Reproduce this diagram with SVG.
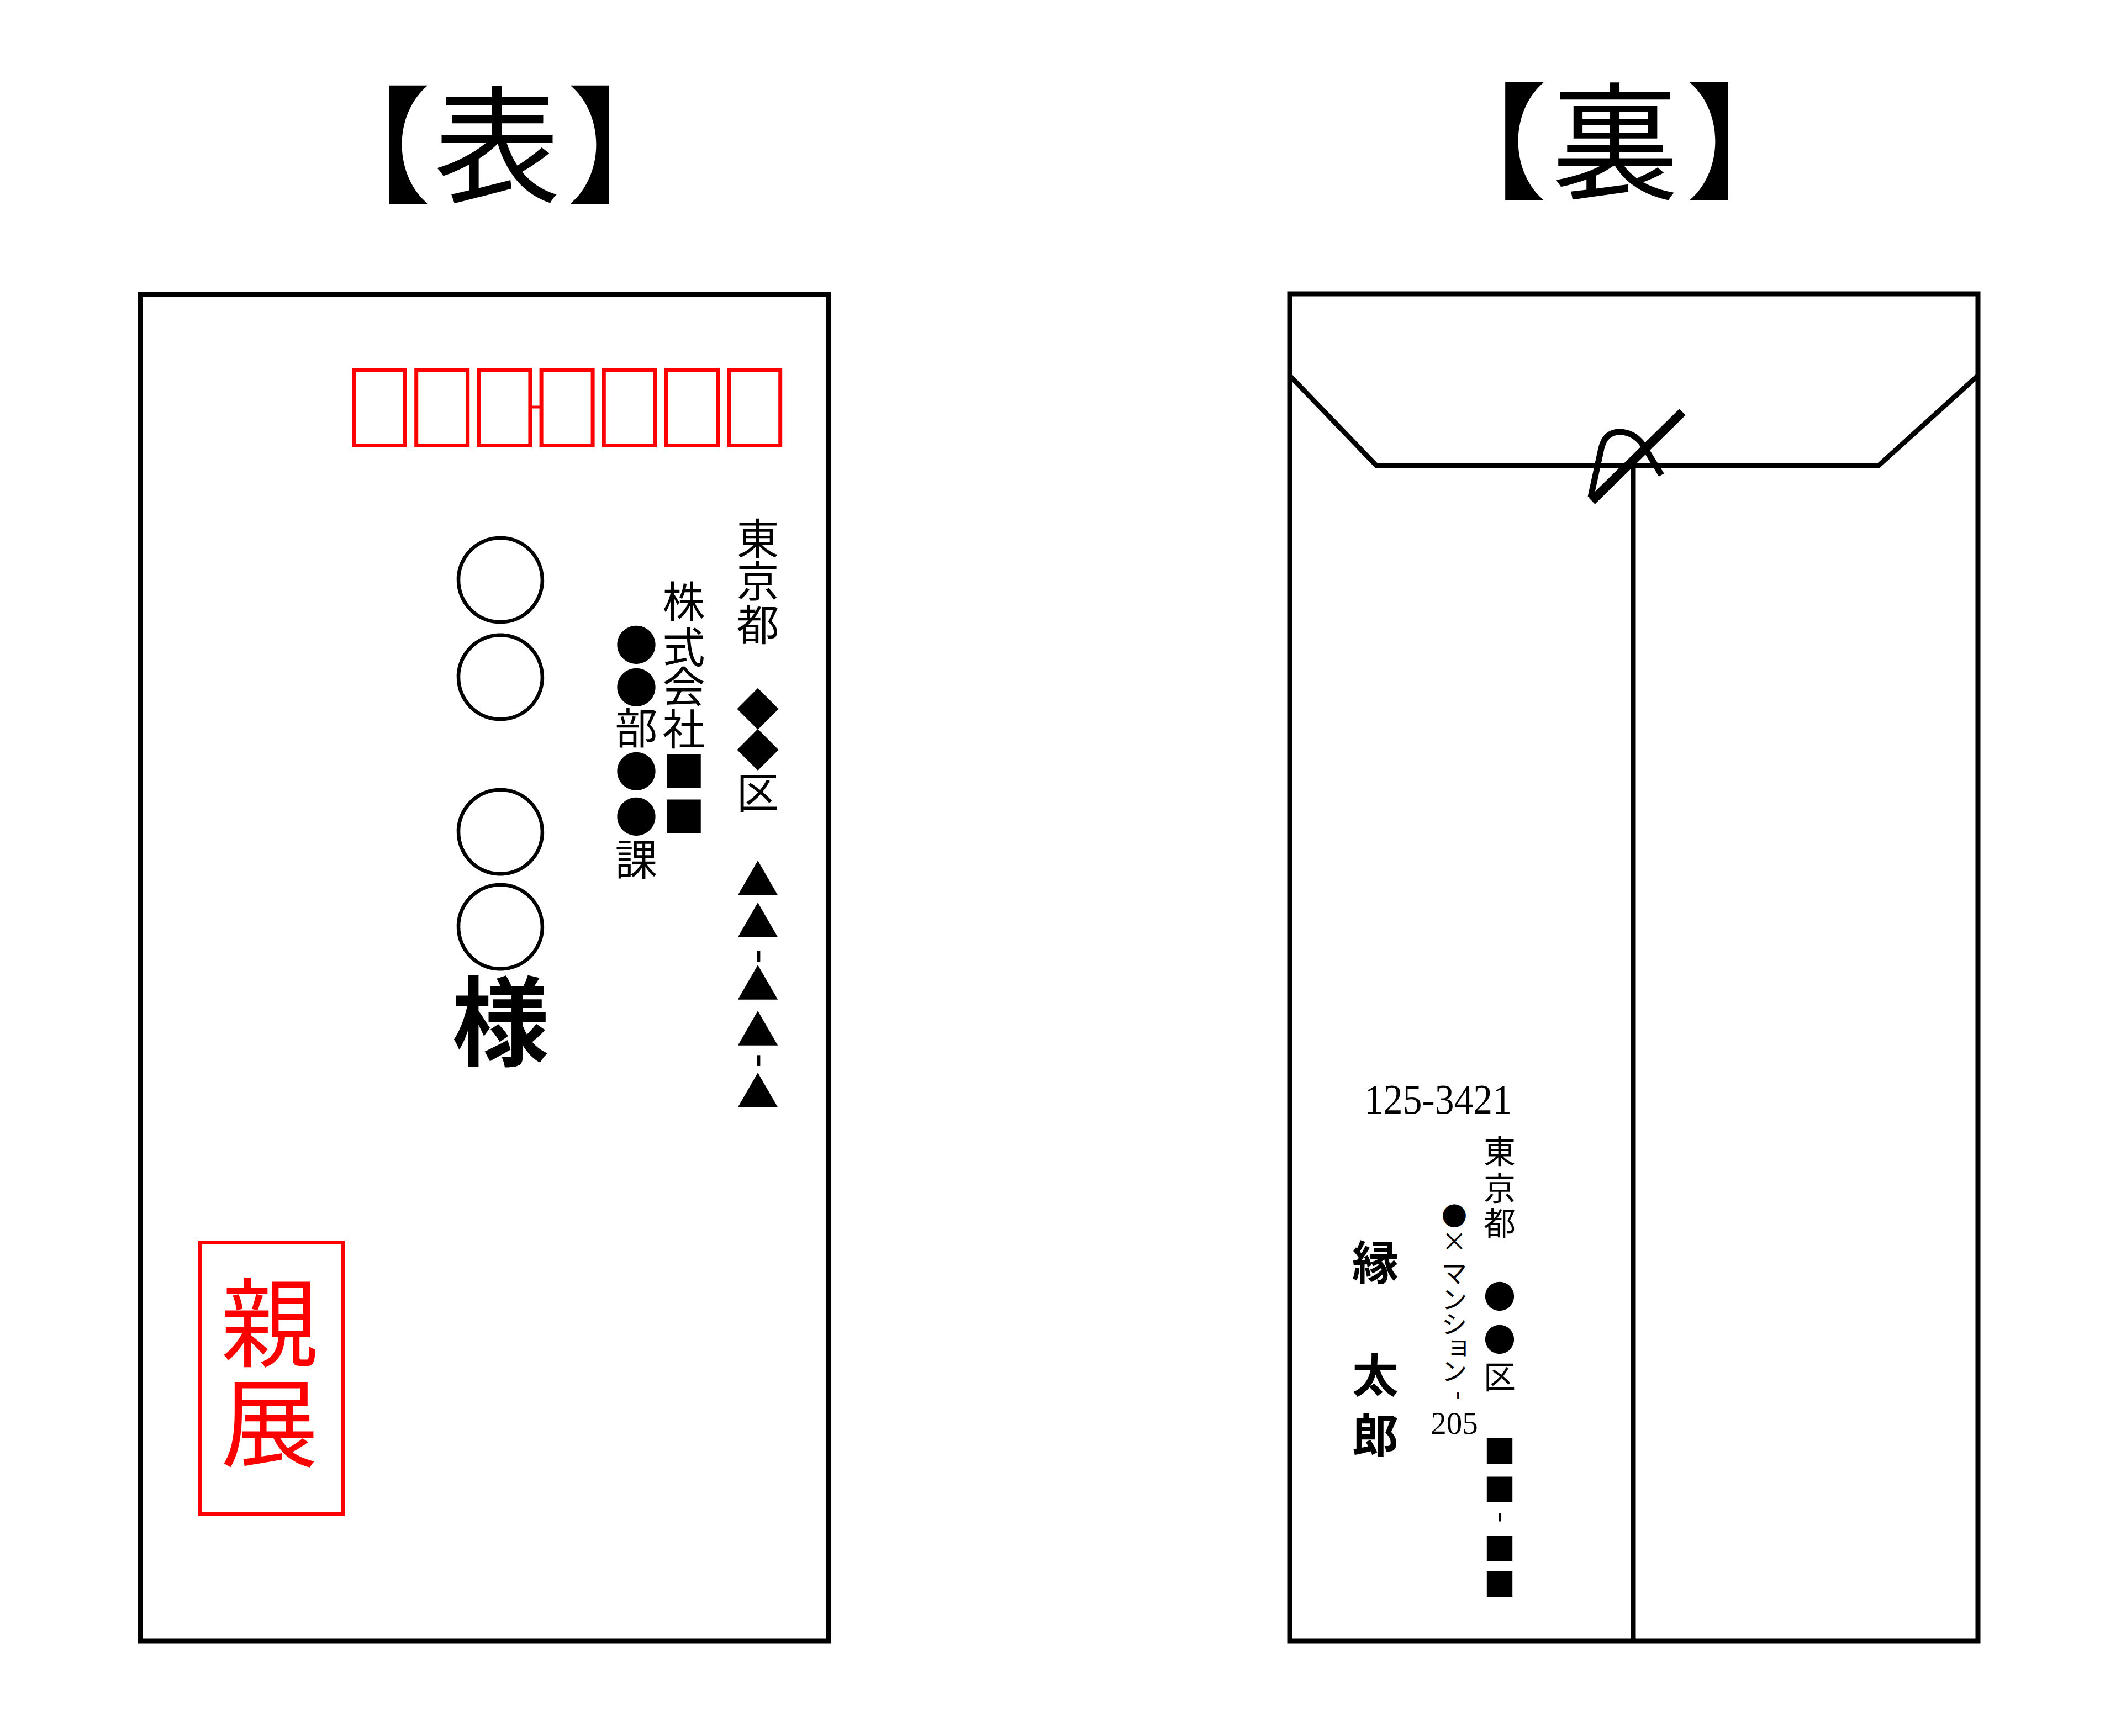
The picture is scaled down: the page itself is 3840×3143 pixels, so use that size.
<svg xmlns="http://www.w3.org/2000/svg" width="3840" height="3143" viewBox="0 0 3840 3143">
<style>
.env{fill:none;stroke:#000;stroke-width:9;stroke-linejoin:miter}
.zip{fill:none;stroke:#ff0000;stroke-width:7}
.jp{font-family:"Noto Sans CJK JP","Noto Sans CJK SC",sans-serif;fill:#000;text-anchor:middle}
.title{font-family:"Noto Sans CJK JP","Noto Sans CJK SC",sans-serif;fill:#000;font-size:230px}
.num{font-family:"Liberation Serif","Noto Sans CJK JP",serif;fill:#000}
.red{fill:#ff0000}
.bold{font-weight:700}
</style>
<rect width="3840" height="3143" fill="#fff"/>

<g id="title-front"><text class="title"><tspan x="551" y="349">【</tspan><tspan x="785" y="349">表</tspan><tspan x="1026" y="349">】</tspan></text></g>
<g id="title-back"><text class="title"><tspan x="2572" y="343">【</tspan><tspan x="2809" y="343">裏</tspan><tspan x="3052" y="343">】</tspan></text></g>

<g id="front-envelope">
  <rect class="env" x="254" y="533" width="1246" height="2438"/>
  <g id="postal-boxes">
    <rect class="zip" x="640.5" y="669.5" width="93" height="137"/>
    <rect class="zip" x="753.7" y="669.5" width="93" height="137"/>
    <rect class="zip" x="866.9" y="669.5" width="93" height="137"/>
    <line x1="963" y1="737" x2="977" y2="737" stroke="#ff0000" stroke-width="5"/>
    <rect class="zip" x="980.1" y="669.5" width="93" height="137"/>
    <rect class="zip" x="1093.3" y="669.5" width="93" height="137"/>
    <rect class="zip" x="1206.5" y="669.5" width="93" height="137"/>
    <rect class="zip" x="1319.7" y="669.5" width="93" height="137"/>
  </g>
  <g id="front-address">
    <text class="jp" font-size="77"><tspan x="1372" y="1004">東</tspan><tspan x="1372" y="1081">京</tspan><tspan x="1372" y="1160">都</tspan><tspan x="1372" y="1313">◆</tspan><tspan x="1372" y="1387">◆</tspan><tspan x="1372" y="1464">区</tspan><tspan x="1372" y="1622">▲</tspan><tspan x="1372" y="1698">▲</tspan><tspan x="1372" y="1811">▲</tspan><tspan x="1372" y="1894">▲</tspan><tspan x="1372" y="2006">▲</tspan></text>
    <text class="jp" font-size="77" x="1372" y="1751" transform="rotate(90 1372 1731)">-</text>
    <text class="jp" font-size="77" x="1372" y="1940" transform="rotate(90 1372 1920)">-</text>
  </g>
  <g id="front-company">
    <text class="jp" font-size="77"><tspan x="1238" y="1118">株</tspan><tspan x="1238" y="1201">式</tspan><tspan x="1238" y="1272">会</tspan><tspan x="1238" y="1349">社</tspan><tspan x="1238" y="1426">■</tspan><tspan x="1238" y="1508">■</tspan></text>
  </g>
  <g id="front-department">
    <text class="jp" font-size="77"><tspan x="1152" y="1197">●</tspan><tspan x="1152" y="1274">●</tspan><tspan x="1152" y="1347">部</tspan><tspan x="1152" y="1426">●</tspan><tspan x="1152" y="1508">●</tspan><tspan x="1152" y="1585">課</tspan></text>
  </g>
  <g id="front-name">
    <text class="jp" font-size="176"><tspan x="906" y="1117">○</tspan><tspan x="906" y="1293">○</tspan><tspan x="906" y="1573">○</tspan><tspan x="906" y="1745">○</tspan><tspan class="bold" x="906" y="1916">様</tspan></text>
  </g>
  <g id="confidential-stamp">
    <rect class="zip" x="361.5" y="2249.5" width="260" height="492"/>
    <text class="jp red" font-size="176"><tspan x="488" y="2461">親</tspan><tspan x="488" y="2642">展</tspan></text>
  </g>
</g>

<g id="back-envelope">
  <rect class="env" x="2335" y="532" width="1246" height="2439"/>
  <polyline class="env" points="2335,680 2492,843 3401,843 3581,680"/>
  <line class="env" x1="2957" y1="843" x2="2957" y2="2971"/>
  <g id="seal-string" fill="none" stroke="#000">
    <path d="M2880,900 L2899,812 Q2906,782 2932,782 Q2958,782 2975,806 L3008,860" stroke-width="11"/>
    <line x1="2882" y1="907" x2="3046" y2="746" stroke-width="16"/>
  </g>
  <g id="sender-postcode">
    <text class="num" x="2470" y="2016" font-size="76" textLength="267" lengthAdjust="spacingAndGlyphs">125-3421</text>
  </g>
  <g id="sender-address">
    <text class="jp" font-size="58"><tspan x="2715" y="2106">東</tspan><tspan x="2715" y="2173">京</tspan><tspan x="2715" y="2236">都</tspan><tspan x="2715" y="2369">●</tspan><tspan x="2715" y="2447">●</tspan><tspan x="2715" y="2514">区</tspan><tspan x="2715" y="2649">■</tspan><tspan x="2715" y="2719">■</tspan><tspan x="2715" y="2826">■</tspan><tspan x="2715" y="2890">■</tspan></text>
    <text class="jp" font-size="58" x="2715" y="2762" transform="rotate(90 2715 2747)">-</text>
  </g>
  <g id="sender-building">
    <text class="jp" font-size="46"><tspan x="2633" y="2218">●</tspan><tspan x="2633" y="2264">×</tspan><tspan x="2633" y="2322">マ</tspan><tspan x="2633" y="2369">ン</tspan><tspan x="2633" y="2414">シ</tspan><tspan x="2641" y="2452">ョ</tspan><tspan x="2633" y="2499">ン</tspan></text>
    <text class="jp" font-size="46" x="2639" y="2538" transform="rotate(90 2639 2526)">-</text>
    <text class="num" x="2633" y="2596" font-size="57" text-anchor="middle">205</text>
  </g>
  <g id="sender-name">
    <text class="jp bold" font-size="84"><tspan x="2490" y="2317">縁</tspan><tspan x="2490" y="2521">太</tspan><tspan x="2490" y="2630">郎</tspan></text>
  </g>
</g>
</svg>
